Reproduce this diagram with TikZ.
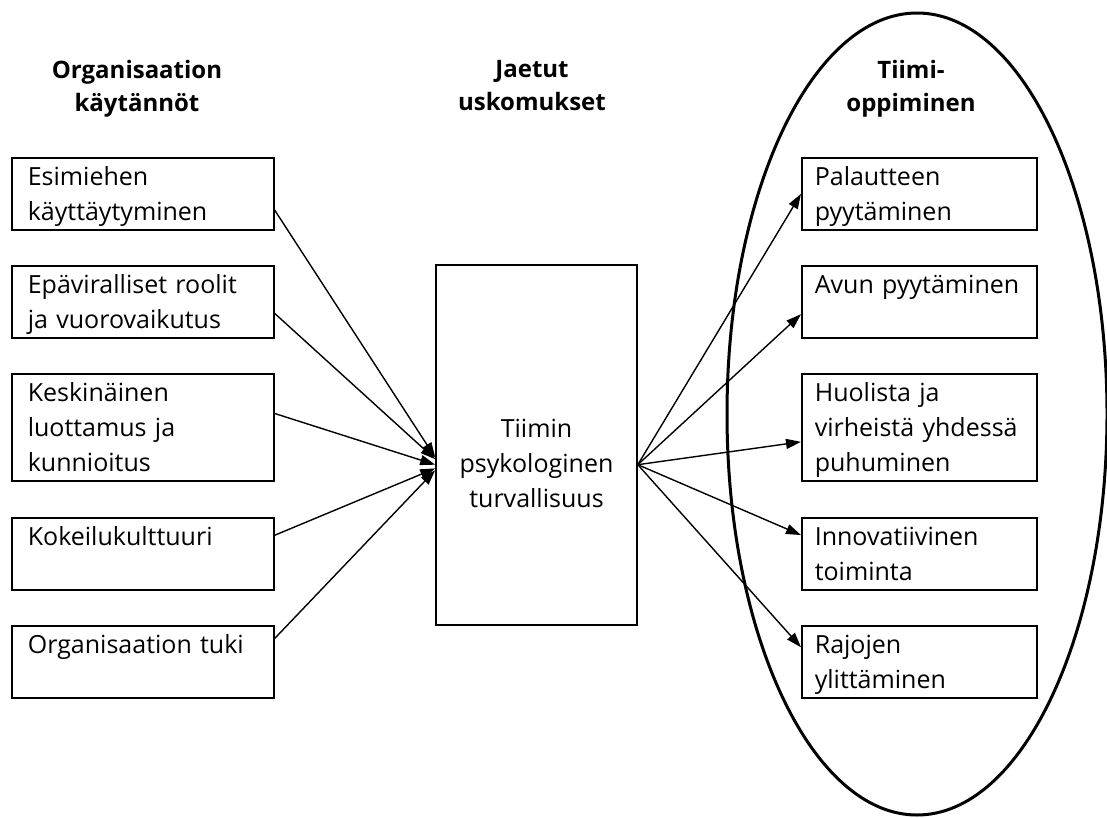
\documentclass[tikz,border=0pt]{standalone}
\usepackage{fontspec}
\setmainfont{Open Sans}
\usepackage{tikz}
\usetikzlibrary{arrows.meta}

\newcommand{\rivituki}{\rule[-4pt]{0pt}{17.5pt}}
\newcommand{\otsikkotuki}{\rule[-3.5pt]{0pt}{16.5pt}}

\begin{document}
\begin{tikzpicture}[x=0.5pt,y=-0.5pt,
    laatikko/.style={draw,line width=0.8pt,anchor=north west,align=left,
        text width=115pt,inner xsep=8pt,inner ysep=0.5pt,
        font=\fontsize{12.5}{17.5}\selectfont,
        execute at begin node=\rivituki,execute at end node=\rivituki},
    oikea/.style={laatikko,text width=104.5pt,inner xsep=6.5pt},
    otsikko/.style={align=center,inner sep=0pt,font=\fontsize{12}{16.5}\selectfont\bfseries,
        execute at begin node=\otsikkotuki,execute at end node=\otsikkotuki},
    nuoli/.style={line width=0.7pt,-{Triangle[length=7.5pt,width=5pt]}}]
    \useasboundingbox (0,0) rectangle (1107,818);

    % Otsikot
    \node[otsikko] (otsikko1) at (137,89) {Organisaation\\käytännöt};
    \node[otsikko] (otsikko2) at (532,89) {Jaetut\\uskomukset};
    \node[otsikko] (otsikko3) at (911,89) {Tiimi-\\oppiminen};

    % Organisaation käytännöt
    \node[laatikko] (v1) at (11,157) {Esimiehen\\käyttäytyminen};
    \node[laatikko] (v2) at (11,265) {Epäviralliset roolit\\ja vuorovaikutus};
    \node[laatikko] (v3) at (11,373) {Keskinäinen\\luottamus ja\\kunnioitus};
    \node[laatikko] (v4) at (11,517) {Kokeilukulttuuri\\};
    \node[laatikko] (v5) at (11,625) {Organisaation tuki\\};

    % Psykologinen turvallisuus
    \node[draw,line width=0.8pt,minimum width=100.5pt,minimum height=180pt,
        text width=84.5pt,inner xsep=8pt,align=center,font=\fontsize{12.5}{17.5}\selectfont,
        execute at begin node=\rivituki,execute at end node=\rivituki]
        (keskus) at (536.5,445) {\mbox{}\\Tiimin\\psykologinen\\turvallisuus};

    % Tiimioppiminen
    \draw[line width=1.5pt] (917,414) ellipse [x radius=190, y radius=401];
    \node[oikea] (o1) at (801,157) {Palautteen\\pyytäminen};
    \node[oikea] (o2) at (801,265) {Avun pyytäminen\\};
    \node[oikea] (o3) at (801,373) {Huolista ja\\virheistä yhdessä\\puhuminen};
    \node[oikea] (o4) at (801,517) {Innovatiivinen\\toiminta};
    \node[oikea] (o5) at (801,625) {Rajojen\\ylittäminen};

    % Nuolet
    \draw[nuoli] (v1.353.5) -- (keskus.187);
    \draw[nuoli] (v2.355) -- (keskus.188);
    \draw[nuoli] (v3.6) -- (keskus.191);
    \draw[nuoli] (v4.8) -- (keskus.193);
    \draw[nuoli] (v5.10) -- (keskus.194);

    \draw[nuoli] (keskus.349) -- (o1.west);
    \draw[nuoli] (keskus.349) -- (o2.186);
    \draw[nuoli] (keskus.349) -- (o3.187);
    \draw[nuoli] (keskus.349) -- (o4.171);
    \draw[nuoli] (keskus.349) -- (o5.173);
\end{tikzpicture}
\end{document}
